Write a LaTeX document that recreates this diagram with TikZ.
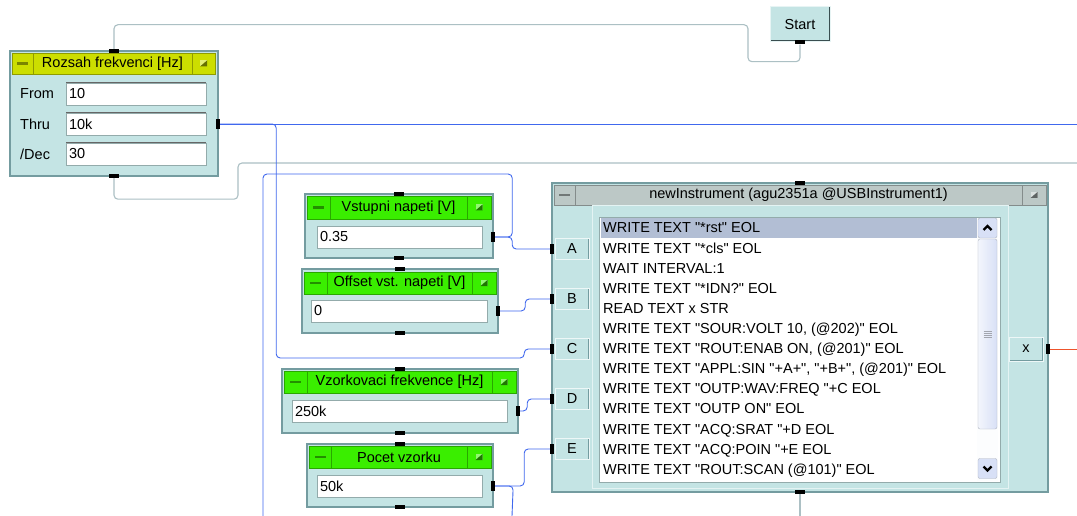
\documentclass[tikz,border=0pt]{standalone}
\usepackage{fontspec}
\setmainfont{Liberation Sans}[Ligatures=TeXOff]
\usetikzlibrary{positioning, calc}
\definecolor{panel}{RGB}{196,228,228}
\definecolor{edge}{RGB}{116,156,160}
\definecolor{olivebar}{RGB}{204,222,0}
\definecolor{limebar}{RGB}{58,238,0}
\definecolor{greybar}{RGB}{188,200,198}
\definecolor{wireblue}{RGB}{64,104,238}
\definecolor{wiregrey}{RGB}{172,192,196}
\definecolor{wirered}{RGB}{238,84,44}
\definecolor{selrow}{RGB}{178,190,212}
\definecolor{thumb}{RGB}{216,224,246}

\begin{document}
\begin{tikzpicture}[x=1pt, y=-1pt,
  font=\fontsize{14.5}{17}\selectfont,
  blk/.style={rectangle, draw=edge, fill=panel, line width=1.4pt, inner sep=0, outer sep=0, anchor=north west,
              path picture={\draw[edge!55!black, line width=2.4pt] (path picture bounding box.south west) -| (path picture bounding box.north east);}},
  tbar/.style={rectangle, inner sep=0, outer sep=0, anchor=north west, fill=#1, draw=#1!70!black,
               line width=0.7pt, minimum height=21},
  minbtn/.style={tbar=#1, minimum width=21,
                 path picture={\fill[#1!60!black] ($(path picture bounding box.center)+(-5.5,-1.2)$) rectangle ++(11,2.4);}},
  maxbtn/.style={tbar=#1, minimum width=23,
                 path picture={\fill[white!45!#1] ($(path picture bounding box.center)+(-3.5,-3)$) rectangle ++(7,6);
                               \fill[#1!50!black] ($(path picture bounding box.center)+(3.5,-3)$) -- ++(0,6) -- ++(-7,0) -- cycle;}},
  field/.style={rectangle, fill=white, draw=panel!75!black, line width=0.6pt, inner xsep=3pt, inner ysep=0,
                outer sep=0, minimum height=22, anchor=north west, align=left,
                path picture={\draw[black!60, line width=2.4pt] (path picture bounding box.south west) |- (path picture bounding box.north east);}},
  fldlbl/.style={anchor=west, inner sep=0},
  pinh/.style={rectangle, fill=black, inner sep=0, minimum width=10, minimum height=4},
  pinv/.style={rectangle, fill=black, inner sep=0, minimum width=4, minimum height=10},
  portbtn/.style={rectangle, fill=panel, draw=white!70!panel, line width=1pt, minimum width=34, minimum height=21, inner sep=0,
                  path picture={\draw[edge, line width=1.6pt] (path picture bounding box.south west) -| (path picture bounding box.north east);}},
  startbtn/.style={rectangle, fill=panel, draw=white!60!panel, line width=1pt, minimum width=60, minimum height=35, inner sep=0,
                   path picture={\draw[edge!50!black, line width=3pt] (path picture bounding box.south west) -| (path picture bounding box.north east);}},
  inset/.style={rectangle, fill=panel, draw=white!55!panel, line width=1.2pt, anchor=north west, inner sep=0},
  selbar/.style={rectangle, fill=selrow, inner sep=0, anchor=north west, minimum width=376, minimum height=20},
  track/.style={rectangle, anchor=north west, fill=white!92!thumb, minimum width=21, minimum height=263, inner sep=0},
  sbtn/.style={rectangle, rounded corners=2pt, minimum width=19, minimum height=20, inner sep=0, fill=thumb, draw=thumb!55!gray,
               path picture={\draw[draw=black, line width=2.2pt, sharp corners]
                             ($(path picture bounding box.center)+(-4,{2*#1})$) -- ($(path picture bounding box.center)+(0,{-2*#1})$)
                             -- ($(path picture bounding box.center)+(4,{2*#1})$);}},
  thumbbar/.style={rectangle, rounded corners=2pt, minimum width=19, minimum height=190, inner sep=0, draw=thumb!55!gray,
                   left color=white!70!thumb, right color=thumb,
                   path picture={\draw[thumb!40!gray, line width=0.6pt] \foreach \d in {-3,-1,1,3} {($(path picture bounding box.center)+(-4,\d)$) -- ++(8,0)};}},
  codeln/.style={anchor=base west, inner sep=0},
  wb/.style={draw=wireblue, line width=0.9pt, rounded corners=4pt},
  wg/.style={draw=wiregrey, line width=1.1pt, rounded corners=4pt},
  wr/.style={draw=wirered, line width=0.9pt}
]
\path[fill=white, use as bounding box] (0,0) rectangle (1077,516);

% frequency range
\node[blk, minimum width=208, minimum height=125] (rz) at (10,51) {};
\node[minbtn=olivebar] (rzMin) at (12,53) {};
\node[tbar=olivebar, right=0pt of rzMin, minimum width=159] (rzTtl) {Rozsah frekvenci [Hz]};
\node[maxbtn=olivebar, right=0pt of rzTtl] (rzMax) {};
\node[field, text width=134] (rzF1) at (66,83) {10};
\node[field, text width=134, below=8pt of rzF1] (rzF2) {10k};
\node[field, text width=134, below=8pt of rzF2] (rzF3) {30};
\node[fldlbl] (rzL1) at ($(rz.west |- rzF1)+(10,0)$) {From};
\node[fldlbl] (rzL2) at ($(rz.west |- rzF2)+(10,0)$) {Thru};
\node[fldlbl] (rzL3) at ($(rz.west |- rzF3)+(10,0)$) {/Dec};
\node[pinh] (rzTop) at (rz.north) {};
\node[pinh] (rzBot) at (rz.south) {};
\node[pinv] (rzOut) at (rz.east |- rzF2) {};

\node[startbtn] (st) at (800,24.5) {Start};
\node[pinh] (stBot) at (st.south) {};

% constants
\node[blk, minimum width=188, minimum height=64] (vs) at (305,194) {};
\node[minbtn=limebar, minimum height=23, minimum width=23] (vsMin) at (307,196) {};
\node[tbar=limebar, minimum height=23, minimum width=137, right=0pt of vsMin] (vsTtl) {Vstupni napeti [V]};
\node[maxbtn=limebar, minimum height=23, minimum width=24, right=0pt of vsTtl] (vsMax) {};
\node[field, text width=159] (vsF) at (317,226) {0.35};
\node[pinh] (vsTop) at (vs.north) {};
\node[pinh] (vsBot) at (vs.south) {};
\node[pinv] (vsOut) at (vs.east |- vsF) {};

\node[blk, minimum width=196, minimum height=64] (off) at (302,269) {};
\node[minbtn=limebar, minimum height=22, minimum width=23] (offMin) at (304,272) {};
\node[tbar=limebar, minimum height=22, minimum width=145, right=0pt of offMin] (offTtl) {Offset vst. napeti [V]};
\node[maxbtn=limebar, minimum height=22, minimum width=24, right=0pt of offTtl] (offMax) {};
\node[field, text width=170] (offF) at (311,300) {0};
\node[pinh] (offTop) at (off.north) {};
\node[pinh] (offBot) at (off.south) {};
\node[pinv] (offOut) at (off.east |- offF) {};

\node[blk, minimum width=236, minimum height=64] (vz) at (282,369) {};
\node[minbtn=limebar, minimum height=22, minimum width=23] (vzMin) at (284,371) {};
\node[tbar=limebar, minimum height=22, minimum width=185, right=0pt of vzMin] (vzTtl) {Vzorkovaci frekvence [Hz]};
\node[maxbtn=limebar, minimum height=22, minimum width=24, right=0pt of vzTtl] (vzMax) {};
\node[field, text width=209] (vzF) at (292,400) {250k};
\node[pinh] (vzTop) at (vz.north) {};
\node[pinh] (vzBot) at (vz.south) {};
\node[pinv] (vzOut) at (vz.east |- vzF) {};

\node[blk, minimum width=186, minimum height=63] (pv) at (307,444) {};
\node[minbtn=limebar, minimum height=22, minimum width=22] (pvMin) at (309,446) {};
\node[tbar=limebar, minimum height=22, minimum width=136, right=0pt of pvMin] (pvTtl) {Pocet vzorku};
\node[maxbtn=limebar, minimum height=22, minimum width=24, right=0pt of pvTtl] (pvMax) {};
\node[field, text width=159] (pvF) at (317,475) {50k};
\node[pinh] (pvTop) at (pv.north) {};
\node[pinh] (pvBot) at (pv.south) {};
\node[pinv] (pvOut) at (pv.east |- pvF) {};

% instrument object
\node[blk, minimum width=496, minimum height=309] (inst) at (552,183) {};
\node[minbtn=greybar, minimum height=20, minimum width=21] (instMin) at (554,185) {};
\node[tbar=greybar, minimum height=20, minimum width=447, right=0pt of instMin] (instTtl) {newInstrument (agu2351a @USBInstrument1)};
\node[maxbtn=greybar, minimum height=20, minimum width=24, right=0pt of instTtl] (instMax) {};
\node[inset, minimum width=416, minimum height=283] (instMid) at (592,205) {};
\node[field, minimum width=401, minimum height=265] (code) at (599,217) {};
\node[selbar] (selRow) at (601,218) {};
\node[track] (sbTrack) at (977,218) {};
\node[sbtn=1] (sbUp) at (987.5,228) {};
\node[thumbbar] (sbThumb) at (987.5,334) {};
\node[sbtn=-1] (sbDn) at (987.5,468.5) {};
\foreach \cmd [count=\i from 0] in {
  {WRITE TEXT "*rst" EOL},
  {WRITE TEXT "*cls" EOL},
  {WAIT INTERVAL:1},
  {WRITE TEXT "*IDN?" EOL},
  {READ TEXT x STR},
  {WRITE TEXT "SOUR:VOLT 10, (@202)" EOL},
  {WRITE TEXT "ROUT:ENAB ON, (@201)" EOL},
  {WRITE TEXT "APPL:SIN "+A+", "+B+", (@201)" EOL},
  {WRITE TEXT "OUTP:WAV:FREQ "+C EOL},
  {WRITE TEXT "OUTP ON" EOL},
  {WRITE TEXT "ACQ:SRAT "+D EOL},
  {WRITE TEXT "ACQ:POIN "+E EOL},
  {WRITE TEXT "ROUT:SCAN (@101)" EOL}}
  \node[codeln] (ln\i) at (603,{233+20.1*\i}) {\cmd};
\foreach \p [count=\k from 0] in {A,B,C,D,E} {
  \node[portbtn] (t\p) at (572,{249+50*\k}) {\p};
  \node[pinv] (p\p) at (inst.west |- t\p) {};
}
\node[portbtn, minimum height=24] (tx) at (1026,349) {x};
\node[pinv] (xOut) at (inst.east |- tx) {};
\node[pinh] (instTop) at (inst.north) {};
\node[pinh] (instBot) at (inst.south) {};

\coordinate (eThru) at (1077,124);
\coordinate (eSeq) at (1077,163);
\coordinate (eVs) at (263,516);
\coordinate (ePv) at (512,516);
\coordinate (eInst) at (800,516);
\coordinate (eX) at (1077,349);

\draw[wg] (stBot.south) -- ++(0,17) -- ++(-52,0) -- ++(0,-37) -| (rzTop.north);
\draw[wg] (rzBot.south) -- ++(0,21) -- ++(124,0) |- (eSeq);
\draw[wb] (rzOut.east) -- (eThru);
\draw[wb] (rzOut.east) -- ++(56,0) -- ++(0,234) -- ++(248,0) |- (pC.west);
\draw[wb] (vsOut.east) -- ++(17,0) |- (pA.west);
\draw[wb] (vsOut.east) -- ++(17,0) -- ++(0,-63) -| (eVs);
\draw[wb] (offOut.east) -- ++(25,0) |- (pB.west);
\draw[wb] (vzOut.east) -- ++(7,0) |- (pD.west);
\draw[wb] (pvOut.east) -- ++(29,0) |- (pE.west);
\draw[wb] (pvOut.east) -- ++(18,0) -- (ePv);
\draw[wg] (instBot.south) -- (eInst);
\draw[wr] (xOut.east) -- (eX);
\end{tikzpicture}
\end{document}
